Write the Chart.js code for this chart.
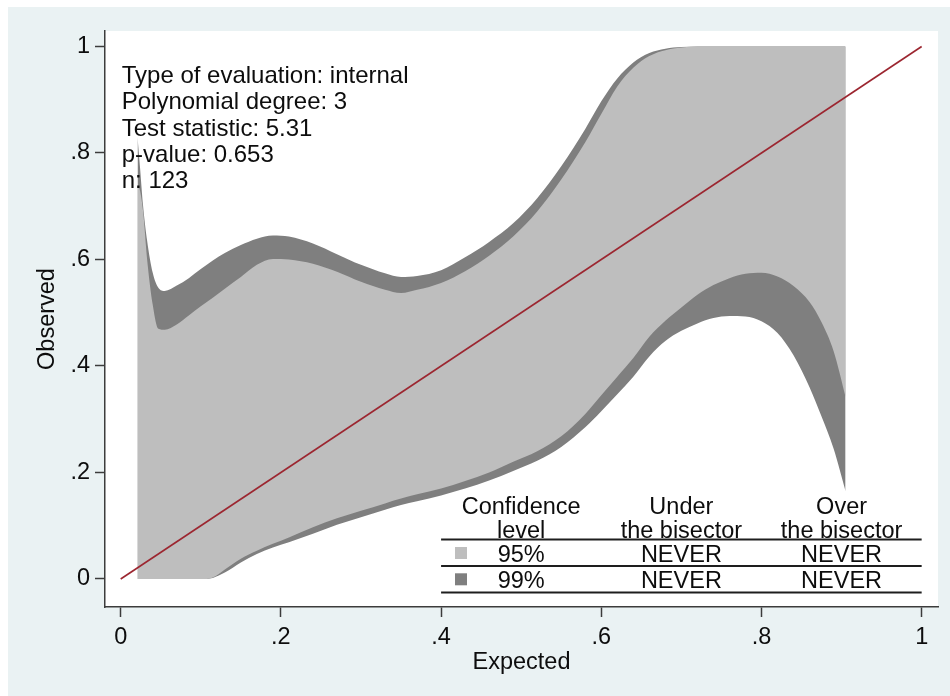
<!DOCTYPE html>
<html>
<head>
<meta charset="utf-8">
<script src="https://cdn.jsdelivr.net/npm/chart.js@4.4.0/dist/chart.umd.min.js"></script>
<style>
  html, body { margin: 0; padding: 0; background: #ffffff; }
  canvas { display: block; }
</style>
</head>
<body>
<canvas id="chart" width="950" height="696"></canvas>
<script>
// expected probability grid shared by the four band edges
const expectedX = [0.021, 0.024, 0.028, 0.033, 0.040, 0.047, 0.055, 0.070, 0.085, 0.100,
  0.115, 0.130, 0.150, 0.170, 0.190, 0.210, 0.240, 0.270, 0.300, 0.330,
  0.350, 0.370, 0.400, 0.430, 0.460, 0.490, 0.520, 0.550, 0.580, 0.600,
  0.620, 0.640, 0.660, 0.680, 0.700, 0.720, 0.740, 0.760, 0.780, 0.800,
  0.820, 0.840, 0.860, 0.875, 0.890, 0.905];

const upper99 = [0.830, 0.775, 0.700, 0.635, 0.575, 0.547, 0.541, 0.551, 0.565, 0.582,
  0.598, 0.612, 0.627, 0.639, 0.645, 0.643, 0.630, 0.610, 0.590, 0.574,
  0.567, 0.569, 0.580, 0.604, 0.633, 0.668, 0.715, 0.775, 0.845, 0.897,
  0.940, 0.970, 0.988, 0.996, 0.999, 1.000, 1.000, 1.000, 1.000, 1.000,
  1.000, 1.000, 1.000, 1.000, 1.000, 1.000];

const upper95 = [0.740, 0.730, 0.690, 0.600, 0.515, 0.470, 0.468, 0.478, 0.495, 0.512,
  0.528, 0.545, 0.567, 0.590, 0.601, 0.600, 0.592, 0.577, 0.558, 0.543,
  0.537, 0.543, 0.556, 0.578, 0.607, 0.643, 0.690, 0.750, 0.820, 0.873,
  0.925, 0.960, 0.982, 0.993, 0.998, 1.000, 1.000, 1.000, 1.000, 1.000,
  1.000, 1.000, 1.000, 1.000, 1.000, 1.000];

const lower95 = [0, 0, 0, 0, 0, 0, 0, 0, 0, 0,
  0.003, 0.018, 0.038, 0.053, 0.066, 0.078, 0.097, 0.114, 0.128, 0.142,
  0.151, 0.159, 0.170, 0.184, 0.200, 0.220, 0.240, 0.268, 0.310, 0.345,
  0.380, 0.415, 0.455, 0.485, 0.510, 0.534, 0.552, 0.565, 0.573, 0.575,
  0.568, 0.550, 0.520, 0.482, 0.428, 0.342];

const lower99 = [0, 0, 0, 0, 0, 0, 0, 0, 0, 0,
  0.002, 0.012, 0.031, 0.047, 0.059, 0.069, 0.085, 0.102, 0.116, 0.130,
  0.139, 0.146, 0.157, 0.170, 0.185, 0.203, 0.222, 0.248, 0.285, 0.315,
  0.347, 0.380, 0.418, 0.447, 0.466, 0.480, 0.490, 0.494, 0.493, 0.484,
  0.462, 0.420, 0.360, 0.305, 0.245, 0.165];

const bisectorX = [0, 1];
const bisectorY = [0, 1];

const tickValues = [0, 0.2, 0.4, 0.6, 0.8, 1];
const tickLabels = ['0', '.2', '.4', '.6', '.8', '1'];

const statsLines = [
  'Type of evaluation: internal',
  'Polynomial degree: 3',
  'Test statistic: 5.31',
  'p-value: 0.653',
  'n: 123'
];

const tableHeader = [['Confidence', 'level'], ['Under', 'the bisector'], ['Over', 'the bisector']];
const confLevels = ['95%', '99%'];
const underBisector = ['NEVER', 'NEVER'];
const overBisector = ['NEVER', 'NEVER'];

const FONT = '"Liberation Sans", Arial, sans-serif';
const FSIZE = 23.5;
const INK = '#0d0d0d';
const AXIS = '#3c3c3c';
const LIGHT = '#bebebe';
const DARK = '#7f7f7f';
const CLEAR = 'rgba(0,0,0,0)';

function toPoints(xs, ys) {
    return xs.map((x, i) => ({ x: x, y: ys[i] }));
}

const backdrop = {
    id: 'backdrop',
    beforeDraw(chart) {
        const { ctx, chartArea } = chart;
        ctx.save();
        ctx.fillStyle = '#ffffff';
        ctx.fillRect(0, 0, chart.width, chart.height);
        ctx.fillStyle = '#eaf2f3';
        ctx.fillRect(8, 7, chart.width - 8, chart.height - 7);
        ctx.fillStyle = '#ffffff';
        ctx.fillRect(chartArea.left, chartArea.top, chartArea.right - chartArea.left, chartArea.bottom - chartArea.top);
        ctx.restore();
    }
};

// stats box at top left and the small table at bottom right
const notes = {
    id: 'notes',
    afterDraw(chart) {
        const { ctx } = chart;
        const sx = chart.scales.x;
        ctx.save();
        ctx.fillStyle = INK;
        ctx.textBaseline = 'alphabetic';

        ctx.font = '24px ' + FONT;
        ctx.textAlign = 'left';
        statsLines.forEach((line, i) => {
            ctx.fillText(line, sx.getPixelForValue(0) + 1, 83 + i * 26.3);
        });

        ctx.font = FSIZE + 'px ' + FONT;
        const cols = [0.5, 0.7, 0.9].map(v => sx.getPixelForValue(v));
        ctx.textAlign = 'center';
        tableHeader.forEach((lines, c) => {
            ctx.fillText(lines[0], cols[c], 513.5);
            ctx.fillText(lines[1], cols[c], 537.5);
        });
        confLevels.forEach((lvl, r) => {
            const base = 561.5 + r * 26.3;
            ctx.fillText(lvl, cols[0], base);
            ctx.fillText(underBisector[r], cols[1], base);
            ctx.fillText(overBisector[r], cols[2], base);
            ctx.fillStyle = r === 0 ? LIGHT : DARK;
            ctx.fillRect(455, base - 14.5, 12, 12);
            ctx.fillStyle = INK;
        });

        ctx.strokeStyle = '#1e1e1e';
        ctx.lineWidth = 2;
        const x0 = sx.getPixelForValue(0.4);
        const x1 = sx.getPixelForValue(1.0);
        [539.5, 566, 592.5].forEach(y => {
            ctx.beginPath();
            ctx.moveTo(x0, y);
            ctx.lineTo(x1, y);
            ctx.stroke();
        });
        ctx.restore();
    }
};

const tickFont = { family: FONT, size: FSIZE };

new Chart(document.getElementById('chart'), {
    type: 'line',
    data: {
        datasets: [
            {
                label: 'bisector',
                data: toPoints(bisectorX, bisectorY),
                borderColor: '#9c2630',
                borderWidth: 1.6,
                pointRadius: 0,
                fill: false,
                order: 0
            },
            {
                label: '95% upper',
                data: toPoints(expectedX, upper95),
                borderColor: CLEAR,
                borderWidth: 0,
                pointRadius: 0,
                backgroundColor: LIGHT,
                fill: '+1',
                cubicInterpolationMode: 'monotone',
                order: 1
            },
            {
                label: '95% lower',
                data: toPoints(expectedX, lower95),
                borderColor: CLEAR,
                borderWidth: 0,
                pointRadius: 0,
                fill: false,
                cubicInterpolationMode: 'monotone',
                order: 2
            },
            {
                label: '99% upper',
                data: toPoints(expectedX, upper99),
                borderColor: CLEAR,
                borderWidth: 0,
                pointRadius: 0,
                backgroundColor: DARK,
                fill: '+1',
                cubicInterpolationMode: 'monotone',
                order: 3
            },
            {
                label: '99% lower',
                data: toPoints(expectedX, lower99),
                borderColor: CLEAR,
                borderWidth: 0,
                pointRadius: 0,
                fill: false,
                cubicInterpolationMode: 'monotone',
                order: 4
            }
        ]
    },
    options: {
        responsive: false,
        animation: false,
        devicePixelRatio: 1,
        layout: { padding: { left: 0, right: 12, top: 31, bottom: 0 } },
        plugins: {
            legend: { display: false },
            tooltip: { enabled: false }
        },
        scales: {
            x: {
                type: 'linear',
                min: -0.0196,
                max: 1.0204,
                afterBuildTicks: (scale) => { scale.ticks = tickValues.map(v => ({ value: v })); },
                afterFit: (scale) => { scale.height = 89; },
                ticks: {
                    callback: (value, index) => tickLabels[index],
                    font: tickFont,
                    color: INK,
                    padding: 6,
                    maxRotation: 0,
                    autoSkip: false
                },
                grid: {
                    display: true,
                    drawOnChartArea: false,
                    drawTicks: true,
                    tickLength: 10,
                    tickWidth: 1.5,
                    tickColor: AXIS
                },
                border: { display: true, color: AXIS, width: 1.5 },
                title: {
                    display: true,
                    text: 'Expected',
                    font: tickFont,
                    color: INK,
                    padding: { top: 0, bottom: 19 }
                }
            },
            y: {
                type: 'linear',
                min: -0.0526,
                max: 1.0291,
                afterBuildTicks: (scale) => { scale.ticks = tickValues.map(v => ({ value: v })); },
                afterFit: (scale) => { scale.width = 105; },
                ticks: {
                    callback: (value, index) => tickLabels[index],
                    font: tickFont,
                    color: INK,
                    padding: 5,
                    autoSkip: false
                },
                grid: {
                    display: true,
                    drawOnChartArea: false,
                    drawTicks: true,
                    tickLength: 10,
                    tickWidth: 1.5,
                    tickColor: AXIS
                },
                border: { display: true, color: AXIS, width: 1.5 },
                title: {
                    display: true,
                    text: 'Observed',
                    font: tickFont,
                    color: INK,
                    padding: { top: 33, bottom: 0 }
                }
            }
        }
    },
    plugins: [backdrop, notes]
});
</script>
</body>
</html>
